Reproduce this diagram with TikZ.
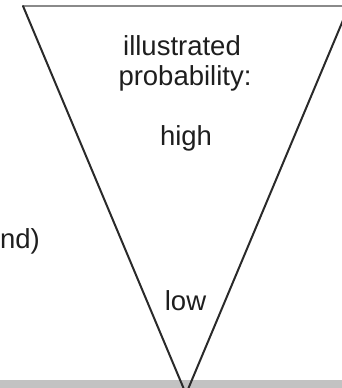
\documentclass[tikz,border=0pt]{standalone}
\usepackage{fontspec}
\setmainfont{Liberation Sans}
\definecolor{txt}{HTML}{1E1E1E}
\definecolor{edge}{HTML}{2A2A2A}
\definecolor{topedge}{HTML}{8A8A8A}
\definecolor{band}{HTML}{C2C2C2}
\begin{document}
\begin{tikzpicture}[x=1pt,y=-1pt,
  lbl/.style={inner sep=0pt, anchor=base, text=txt, font=\fontsize{27.5}{30}\selectfont},
  side/.style={draw=edge, line width=2pt, line cap=round},
  topside/.style={draw=topedge, line width=2.8pt}]
\useasboundingbox (0,0) rectangle (342,388);
\fill[band] (0,380) rectangle (342,388);
\coordinate (tl) at (23,6);
\coordinate (tr) at (349,6);
\coordinate (ap) at (186,394);
\draw[topside] (tl) -- (tr);
\draw[side] (tl) -- (ap) -- (tr);
\node[lbl] (l1) at (182,55) {illustrated};
\node[lbl] (l2) at (185,85) {probability:};
\node[lbl] (hi) at (186,145) {high};
\node[lbl] (lo) at (185.5,310) {low};
\node[lbl, anchor=base east] (lg) at (40,248) {nd)};
\end{tikzpicture}
\end{document}
